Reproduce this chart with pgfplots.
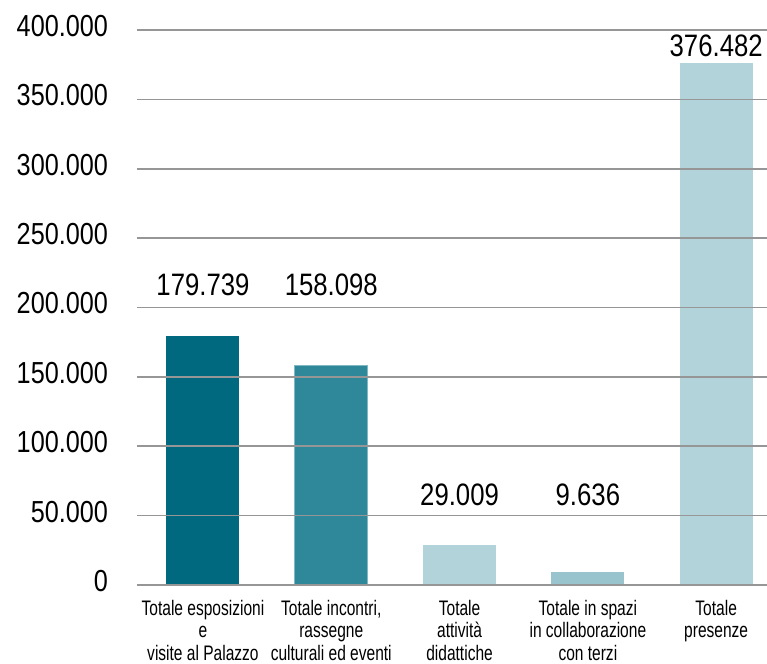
\documentclass[border=0pt]{standalone}
\usepackage{pgfplots}
\pgfplotsset{compat=1.18}
\usepackage{fontspec}
\setmainfont{Liberation Sans}[FakeStretch=0.83]
\newfontfamily\narrowfont{Liberation Sans}[FakeStretch=0.74]
\definecolor{cA}{RGB}{0,105,128}
\definecolor{cB}{RGB}{47,136,153}
\definecolor{cBe}{RGB}{127,184,195}
\definecolor{cC}{RGB}{179,211,218}
\definecolor{cD}{RGB}{153,196,206}
\definecolor{gridc}{RGB}{150,150,150}
\begin{document}
\begin{tikzpicture}
\begin{axis}[
  at={(0,0)}, anchor=south west,
  scale only axis, width=315pt, height=277.5pt,
  xmin=-0.514, xmax=4.396, ymin=0, ymax=400000,
  axis on top,
  axis x line=bottom, axis y line=left,
  x axis line style={draw=gridc, line width=1pt, -},
  y axis line style={draw=none},
  major tick length=0pt,
  ytick={0,50000,...,400000},
  scaled y ticks=false,
  ymajorgrids, grid style={gridc, line width=0.8pt},
  yticklabel style={/pgf/number format/.cd, fixed, 1000 sep={.}, assume math mode=true, /tikz/.cd, font=\fontsize{15.2}{18}\selectfont, xshift=-11pt, yshift=2pt},
  xtick={0,1,2,3,4},
  xticklabels={{Totale esposizioni\\e\\visite al Palazzo},{Totale incontri,\\rassegne\\culturali ed eventi},{Totale\\attività\\didattiche},{Totale in spazi\\in collaborazione\\con terzi},{Totale\\presenze}},
  xticklabel style={align=center, font=\narrowfont\fontsize{10.5}{11.2}\selectfont, yshift=-4pt},
  ybar, bar width=36.5pt, bar shift=0pt,
]
\addplot[fill=cA, draw=none] coordinates {(0,179739)};
\addplot[fill=cB, draw=cBe, line width=0.5pt] coordinates {(1,158098)};
\addplot[fill=cC, draw=none] coordinates {(2,29009)};
\addplot[fill=cD, draw=none] coordinates {(3,9636)};
\addplot[fill=cC, draw=none] coordinates {(4,376482)};
\node[font=\fontsize{15.5}{18}\selectfont] at (axis cs:0,216200) {179.739};
\node[font=\fontsize{15.5}{18}\selectfont] at (axis cs:1,216200) {158.098};
\node[font=\fontsize{15.5}{18}\selectfont] at (axis cs:2,65000) {29.009};
\node[font=\fontsize{15.5}{18}\selectfont] at (axis cs:3,65000) {9.636};
\node[font=\fontsize{15.5}{18}\selectfont] at (axis cs:4,388500) {376.482};
\end{axis}
\pgfresetboundingbox
\path (-68.5pt,-39.5pt) rectangle (315pt,292.5pt);
\end{tikzpicture}
\end{document}
